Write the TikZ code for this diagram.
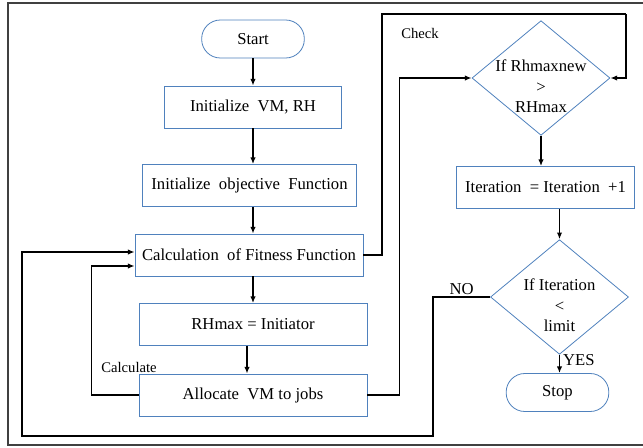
\documentclass[tikz,border=0pt]{standalone}
\usepackage{fontspec}
\setmainfont{LiberationSerif-Regular.ttf}[BoldFont=LiberationSerif-Bold.ttf]
\usepackage{tikz}
\usetikzlibrary{shapes.geometric, arrows.meta}

\definecolor{boxblue}{HTML}{4F81BD}

\begin{document}
\begin{tikzpicture}[
        x=0.75pt, y=-0.75pt,
        font=\rmfamily\fontsize{12.5}{14}\selectfont,
        box/.style={rectangle, draw=boxblue, line width=0.6pt, minimum height=31.5pt, align=center, fill=white},
        terminal/.style={rectangle, draw=boxblue, line width=0.6pt, rounded corners=14pt, minimum width=77pt, minimum height=28.5pt, fill=white},
        decision/.style={diamond, draw=boxblue, line width=0.6pt, inner sep=0pt, minimum width=103.5pt, minimum height=86pt},
        arrow/.style={-{Latex[length=5pt, width=4pt]}, line width=1.3pt},
        link/.style={line width=1.3pt},
        lbl/.style={font=\rmfamily\fontsize{11}{13}\selectfont, inner sep=1pt}
    ]

    \useasboundingbox (0,0) rectangle (643,447);
    \draw[black!75, line width=0.8pt] (8,3) rectangle (650,445);

    % Nodes
    \node[terminal] (start) at (253,39) {Start};

    \node[box, minimum width=133pt] (initvm) at (253,107) {Initialize~~VM, RH};

    \node[box, minimum width=161pt] (initobj) at (249.5,185.5) {Initialize~~objective~~Function};

    \node[box, minimum width=171pt] (calc) at (249,255) {Calculation~~of Fitness Function};

    \node[box, minimum width=171pt] (rhmax) at (253,324.5) {RHmax = Initiator};

    \node[box, minimum width=171pt] (alloc) at (253,395) {Allocate~~VM to jobs};

    \node[decision] (chk) at (541,78) {};
    \node[align=center, inner sep=0pt] (chktext) at (541,86) {If Rhmaxnew\\[2pt]>\\[1pt]RHmax};

    \node[box, minimum width=133pt] (iter) at (545.5,187.5) {Iteration~~=~Iteration~~+1};

    \node[decision] (lim) at (559.5,297) {};
    \node[align=center, inner sep=0pt] (limtext) at (559.5,305) {If Iteration\\[2pt]<\\[1pt]limit};

    \node[terminal] (stop) at (557.5,392.5) {Stop};

    \node[lbl] (checklbl) at (420,33) {Check};
    \node[lbl] (calclbl) at (129,367) {Calculate};

    \coordinate (checktop) at (382,14);
    \coordinate (checkright) at (626,14);
    \coordinate (nobottom) at (22,436);

    % Arrows
    \draw[arrow] (start) -- (initvm);
    \draw[arrow] (initvm) -- (initvm |- initobj.north);
    \draw[arrow] (initvm |- initobj.south) -- (initvm |- calc.north);
    \draw[arrow] (initvm |- calc.south) -- (rhmax);
    \draw[arrow] ([xshift=-4.5pt]rhmax.south) -- ([xshift=-4.5pt]alloc.north);

    % Check loop
    \draw[link] (calc.east) -| (checktop) -- (checkright);
    \draw[arrow] (checkright) |- (chk.east);
    \draw[arrow] (alloc.east) -- ++(32,0) |- (chk.west);

    \draw[arrow] (chk.south) -- (chk |- iter.north);
    \draw[arrow] (lim |- iter.south) -- (lim.north);
    \draw[arrow] (lim.south) -- node[right, inner sep=2pt, yshift=3pt] {YES} (lim |- stop.north);

    % Feedback lines
    \draw[arrow] (lim.west) -- node[above, inner sep=1pt] {NO} ++(-57,0) |- (nobottom) |- ([yshift=2.25pt]calc.west);
    \draw[arrow] (alloc.west) -- ++(-47,0) |- ([yshift=-8.25pt]calc.west);

\end{tikzpicture}
\end{document}
